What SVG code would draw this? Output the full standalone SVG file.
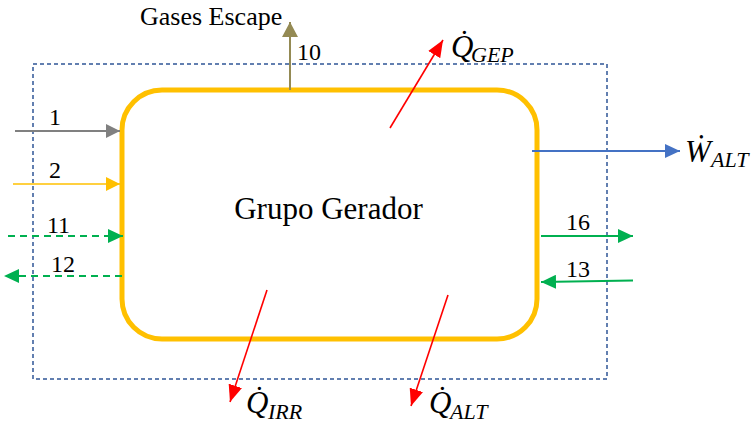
<svg xmlns="http://www.w3.org/2000/svg" width="753" height="428" viewBox="0 0 753 428">
  <style>
    text { font-family: 'Liberation Serif', 'DejaVu Serif', serif; fill: #000; }
    .lbl { font-size: 24px; }
    .title { font-size: 31px; }
    .sym { font-style: italic; font-size: 31px; }
    .sub { font-style: italic; font-size: 22px; }
    .boundary { fill: none; stroke: #2F5597; stroke-width: 1.5; stroke-dasharray: 4 3; }
    .unit { fill: #fff; stroke: #FFC000; stroke-width: 5; }
    .gray { stroke: #808080; stroke-width: 2; fill: none; }
    .fuel { stroke: #FFC000; stroke-width: 1.6; fill: none; }
    .water { stroke: #00B050; stroke-width: 1.8; fill: none; }
    .water-d { stroke: #00B050; stroke-width: 1.8; fill: none; stroke-dasharray: 7 5; }
    .power { stroke: #4472C4; stroke-width: 2; fill: none; }
    .heat { stroke: #FF0000; stroke-width: 1.6; fill: none; }
    .gas { stroke: #948A54; stroke-width: 2; fill: none; }
  </style>
  <defs>
    <marker id="ah-gray" markerUnits="userSpaceOnUse" viewBox="0 0 14 14" refX="14" refY="7" markerWidth="14" markerHeight="14" orient="auto">
      <path d="M0,0 L14,7 L0,14 z" fill="#808080"/>
    </marker>
    <marker id="ah-fuel" markerUnits="userSpaceOnUse" viewBox="0 0 14 14" refX="14" refY="7" markerWidth="14" markerHeight="14" orient="auto">
      <path d="M0,0 L14,7 L0,14 z" fill="#FFC000"/>
    </marker>
    <marker id="ah-water" markerUnits="userSpaceOnUse" viewBox="0 0 15 14" refX="15" refY="7" markerWidth="15" markerHeight="14" orient="auto">
      <path d="M0,0 L15,7 L0,14 z" fill="#00B050"/>
    </marker>
    <marker id="ah-power" markerUnits="userSpaceOnUse" viewBox="0 0 15 14" refX="15" refY="7" markerWidth="15" markerHeight="14" orient="auto">
      <path d="M0,0 L15,7 L0,14 z" fill="#4472C4"/>
    </marker>
    <marker id="ah-heat" markerUnits="userSpaceOnUse" viewBox="0 0 17 14" refX="17" refY="7" markerWidth="17" markerHeight="14" orient="auto">
      <path d="M0,0 L17,7 L0,14 z" fill="#FF0000"/>
    </marker>
    <marker id="ah-gas" markerUnits="userSpaceOnUse" viewBox="0 0 15 16" refX="15" refY="8" markerWidth="15" markerHeight="16" orient="auto">
      <path d="M0,0 L15,8 L0,16 z" fill="#948A54"/>
    </marker>
  </defs>

  <!-- control volume boundary -->
  <g id="boundary">
    <rect class="boundary" x="33" y="64" width="574" height="315"/>
  </g>

  <!-- generator set -->
  <g id="grupo-gerador">
    <rect class="unit" x="122" y="90" width="415" height="249" rx="40" ry="40"/>
    <text class="title" x="328.5" y="219" text-anchor="middle">Grupo Gerador</text>
  </g>

  <!-- flows in and out of the generator set -->
  <g id="connectors">
    <line class="gray" x1="15" y1="131" x2="120" y2="131" marker-end="url(#ah-gray)"/>
    <line class="fuel" x1="13" y1="184" x2="120" y2="184" marker-end="url(#ah-fuel)"/>
    <line class="water-d" x1="8" y1="236" x2="123" y2="236" marker-end="url(#ah-water)"/>
    <line class="water-d" x1="122" y1="276" x2="4" y2="276" marker-end="url(#ah-water)"/>
    <line class="gas" x1="290" y1="90" x2="290" y2="22" marker-end="url(#ah-gas)"/>
    <line class="power" x1="532" y1="151" x2="680" y2="151" marker-end="url(#ah-power)"/>
    <line class="water" x1="541" y1="236" x2="633" y2="236" marker-end="url(#ah-water)"/>
    <line class="water" x1="633" y1="280.5" x2="541" y2="282" marker-end="url(#ah-water)"/>
    <line class="heat" x1="390" y1="128" x2="443" y2="40" marker-end="url(#ah-heat)"/>
    <line class="heat" x1="267" y1="290" x2="230" y2="402" marker-end="url(#ah-heat)"/>
    <line class="heat" x1="448" y1="295" x2="411" y2="406" marker-end="url(#ah-heat)"/>
  </g>

  <!-- stream labels -->
  <g id="labels">
    <text class="lbl" x="140" y="25" style="font-size:26px">Gases Escape</text>
    <text class="lbl" x="49" y="125">1</text>
    <text class="lbl" x="49" y="178">2</text>
    <text class="lbl" x="47" y="233">11</text>
    <text class="lbl" x="51" y="272">12</text>
    <text class="lbl" x="297" y="60">10</text>
    <text class="lbl" x="566" y="230">16</text>
    <text class="lbl" x="566" y="277">13</text>
  </g>

  <!-- energy terms -->
  <g id="q-gep">
    <text class="sym" x="451" y="57">Q̇</text>
    <text class="sub" x="471" y="62">GEP</text>
  </g>
  <g id="w-alt">
    <text class="sym" x="685" y="162">Ẇ</text>
    <text class="sub" x="711" y="167">ALT</text>
  </g>
  <g id="q-irr">
    <text class="sym" x="246" y="413">Q̇</text>
    <text class="sub" x="268" y="419">IRR</text>
  </g>
  <g id="q-alt">
    <text class="sym" x="429" y="413">Q̇</text>
    <text class="sub" x="450" y="419">ALT</text>
  </g>
</svg>
